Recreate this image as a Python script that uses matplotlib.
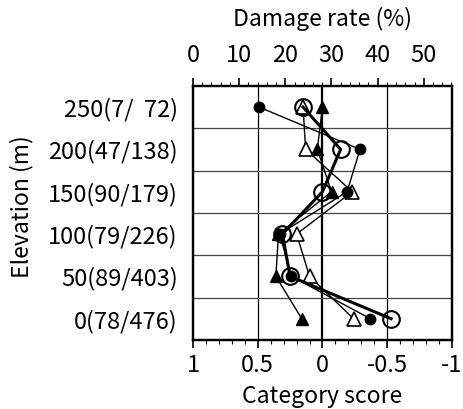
import matplotlib

matplotlib.use('Agg')
import matplotlib.pyplot as plt
from matplotlib.ticker import MultipleLocator

plt.rcParams['font.family'] = ['Noto Sans CJK JP', 'DejaVu Sans']

# 標高帯（下から上）とラベル
elev_labels = ['0(78/476)', '50(89/403)', '100(79/226)',
               '150(90/179)', '200(47/138)', '250(7/  72)']
elev_idx = [0, 1, 2, 3, 4, 5]

# カテゴリースコア（各系列、標高帯の順）
score_open_circle = [-0.53, 0.25, 0.31, 0.00, -0.14, 0.15]
score_filled_circle = [-0.37, 0.24, 0.33, -0.19, -0.29, 0.49]
score_filled_tri = [0.16, 0.36, 0.34, -0.07, 0.04, 0.00]
score_open_tri = [-0.24, 0.10, 0.20, -0.23, 0.13, 0.15]

TICK_FS = 17
LABEL_FS = 16.5

fig = plt.figure(figsize=(4.64, 4.09), dpi=100)
ax = fig.add_axes([0.416, 0.169, 0.558, 0.621])

ax.plot(score_filled_tri, elev_idx, color='black', lw=1.0, marker='^',
        ms=8, mfc='black', mec='black', zorder=3)
ax.plot(score_open_tri, elev_idx, color='black', lw=1.0, marker='^',
        ms=10.5, mfc='white', mec='black', mew=1.2, zorder=3)
ax.plot(score_filled_circle, elev_idx, color='black', lw=1.0, marker='o',
        ms=7.5, mfc='black', mec='black', zorder=4)
ax.plot(score_open_circle, elev_idx, color='black', lw=2.2, marker='o',
        ms=12, mfc='none', mec='black', mew=1.5, zorder=5)

ax.set_xlim(1, -1)
ax.set_ylim(-0.5, 5.5)
ax.set_xticks([1, 0.5, 0, -0.5, -1])
ax.set_xticklabels(['1', '0.5', '0', '-0.5', '-1'])
ax.xaxis.set_minor_locator(MultipleLocator(0.1))
ax.set_yticks(elev_idx)
ax.set_yticklabels(elev_labels)
ax.tick_params(axis='y', length=0, pad=11, labelsize=TICK_FS)
ax.tick_params(axis='x', which='major', direction='out', length=6,
               width=1.2, labelsize=TICK_FS, pad=4.5)
ax.tick_params(axis='x', which='minor', direction='out', length=3, width=0.8)

# 格子線
for x in [0.5, -0.5]:
    ax.axvline(x, color='black', lw=0.9, zorder=1)
ax.axvline(0, color='black', lw=1.6, zorder=1)
for y in [0.5, 1.5, 2.5, 3.5, 4.5]:
    ax.axhline(y, color='#444444', lw=0.9, zorder=1)

for sp in ax.spines.values():
    sp.set_linewidth(1.6)

ax.set_xlabel('Category score', fontsize=LABEL_FS, va='baseline')
ax.xaxis.set_label_coords(0.5, -0.248)
ylab = ax.set_ylabel('Elevation (m)', fontsize=LABEL_FS)
ylab.set_rotation_mode('anchor')
ylab.set_ha('center')
ylab.set_va('baseline')
ax.yaxis.set_label_coords(-0.637, 0.524)

# 上側：被害率軸
top = ax.twiny()
top.set_xlim(0, 56.1)
top.set_xticks([0, 10, 20, 30, 40, 50])
top.xaxis.set_minor_locator(MultipleLocator(2))
top.tick_params(axis='x', which='major', direction='out', length=6,
                width=1.2, labelsize=TICK_FS, pad=7.5)
top.tick_params(axis='x', which='minor', direction='out', length=3, width=0.8)
top.set_xlabel('Damage rate (%)', fontsize=LABEL_FS, va='baseline')
top.xaxis.set_label_coords(0.5, 1.236)
for sp in top.spines.values():
    sp.set_linewidth(1.6)

fig.savefig('out.png', dpi=100)
